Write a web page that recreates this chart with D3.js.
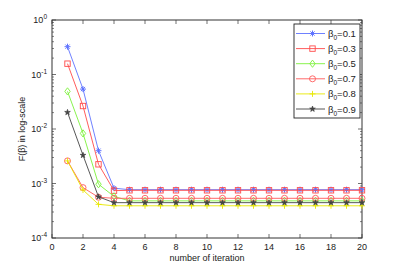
<!DOCTYPE html>
<html>
<head>
<meta charset="utf-8">
<script src="https://cdn.jsdelivr.net/npm/d3@7"></script>
<style>
  body { margin: 0; background: #fff; }
  svg text { font-family: "Liberation Sans", Arial, sans-serif; fill: #222; }
</style>
</head>
<body>
<div id="chart"></div>
<script>
const iterations = d3.range(1, 21);
const seriesNames = ['0.1', '0.3', '0.5', '0.7', '0.8', '0.9'];
const beta01 = [0.324, 0.054, 0.0040, 0.00082].concat(Array(16).fill(0.00077));
const beta03 = [0.158, 0.0264, 0.00225, 0.00074].concat(Array(16).fill(0.00075));
const beta05 = [0.049, 0.0083, 0.00097, 0.00058].concat(Array(16).fill(0.00048));
const beta07 = [0.0026, 0.00084, 0.00056, 0.000535].concat(Array(16).fill(0.000535));
const beta08 = [0.0026, 0.00076, 0.000415, 0.00039].concat(Array(16).fill(0.00039));
const beta09 = [0.0202, 0.0033, 0.00057, 0.000445].concat(Array(16).fill(0.000445));
const xTicks = d3.range(0, 21, 2);
const yTicks = [1e-4, 1e-3, 1e-2, 1e-1, 1];
const yExp = ['-4', '-3', '-2', '-1', '0'];

const seriesValues = [beta01, beta03, beta05, beta07, beta08, beta09];
const colors = ['#5f73ff', '#ff4a4a', '#7cf23a', '#ff5a5a', '#e8e800', '#444444'];
const markers = ['asterisk', 'square', 'diamond', 'circle', 'plus', 'star'];

const width = 399, height = 268;
const margin = {top: 20, right: 37, bottom: 30, left: 52};
const innerW = width - margin.left - margin.right;
const innerH = height - margin.top - margin.bottom;

const svg = d3.select('#chart').append('svg')
    .attr('width', width)
    .attr('height', height);

const g = svg.append('g').attr('transform', `translate(${margin.left},${margin.top})`);

const x = d3.scaleLinear().domain([0, 20]).range([0, innerW]);
const y = d3.scaleLog().domain([1e-4, 1]).range([innerH, 0]);

// minor log ticks
const minor = [];
for (let e = -4; e < 0; e++) for (let k = 2; k <= 9; k++) minor.push(k * Math.pow(10, e));

const tickColor = '#333';
// y ticks left/right
[0, innerW].forEach((px, side) => {
    const dir = side === 0 ? 1 : -1;
    g.selectAll(null).data(yTicks).enter().append('line')
        .attr('x1', px).attr('x2', px + dir * 4)
        .attr('y1', d => y(d)).attr('y2', d => y(d))
        .attr('stroke', tickColor).attr('stroke-width', 0.7);
    g.selectAll(null).data(minor).enter().append('line')
        .attr('x1', px).attr('x2', px + dir * 2)
        .attr('y1', d => y(d)).attr('y2', d => y(d))
        .attr('stroke', tickColor).attr('stroke-width', 0.6);
});
// x ticks bottom/top
[innerH, 0].forEach((py, side) => {
    const dir = side === 0 ? -1 : 1;
    g.selectAll(null).data(xTicks).enter().append('line')
        .attr('x1', d => x(d)).attr('x2', d => x(d))
        .attr('y1', py).attr('y2', py + dir * 4)
        .attr('stroke', tickColor).attr('stroke-width', 0.7);
});

// frame
g.append('rect').attr('width', innerW).attr('height', innerH)
    .attr('fill', 'none').attr('stroke', '#333').attr('stroke-width', 1);

// x tick labels
g.selectAll('.xl').data(xTicks).enter().append('text')
    .attr('class', 'xl')
    .attr('x', d => x(d)).attr('y', innerH + 12)
    .attr('text-anchor', 'middle')
    .style('font-size', '9px')
    .text(d => d);

// y tick labels
const yl = g.selectAll('.yl').data(yTicks).enter().append('text')
    .attr('class', 'yl')
    .attr('x', -5).attr('y', d => y(d) + 3)
    .attr('text-anchor', 'end')
    .style('font-size', '9px');
yl.append('tspan').text('10');
yl.append('tspan').attr('dy', -4).style('font-size', '6.5px').text((d, i) => yExp[i]);

// axis titles
g.append('text')
    .attr('x', innerW / 2).attr('y', innerH + 23)
    .attr('text-anchor', 'middle')
    .style('font-size', '9px')
    .text('number of iteration');

const yt = g.append('text')
    .attr('transform', `translate(-27,${innerH / 2}) rotate(-90)`)
    .attr('text-anchor', 'middle')
    .style('font-size', '9px');
yt.text('F(β) in log-scale');

function drawMarker(sel, type, color, size) {
    const s = size;
    if (type === 'asterisk') {
        sel.append('path')
            .attr('d', `M${-s},0L${s},0M0,${-s}L0,${s}M${-s * 0.7},${-s * 0.7}L${s * 0.7},${s * 0.7}M${-s * 0.7},${s * 0.7}L${s * 0.7},${-s * 0.7}`)
            .attr('stroke', color).attr('stroke-width', 1).attr('fill', 'none');
    } else if (type === 'plus') {
        sel.append('path')
            .attr('d', `M${-s},0L${s},0M0,${-s}L0,${s}`)
            .attr('stroke', color).attr('stroke-width', 0.9).attr('fill', 'none');
    } else if (type === 'square') {
        sel.append('rect').attr('x', -s * 0.9).attr('y', -s * 0.9)
            .attr('width', s * 1.8).attr('height', s * 1.8)
            .attr('stroke', color).attr('stroke-width', 0.9).attr('fill', 'none');
    } else if (type === 'diamond') {
        sel.append('path')
            .attr('d', `M0,${-s * 1.2}L${s * 0.9},0L0,${s * 1.2}L${-s * 0.9},0Z`)
            .attr('stroke', color).attr('stroke-width', 0.9).attr('fill', 'none');
    } else if (type === 'circle') {
        sel.append('circle').attr('r', s)
            .attr('stroke', color).attr('stroke-width', 0.9).attr('fill', 'none');
    } else if (type === 'star') {
        sel.append('path')
            .attr('d', d3.symbol().type(d3.symbolStar).size(s * s * 1.1)())
            .attr('stroke', color).attr('stroke-width', 0.7).attr('fill', color);
    }
}

const line = d3.line().x((d, i) => x(iterations[i])).y(d => y(d));

seriesValues.forEach((vals, si) => {
    const sg = g.append('g');
    sg.append('path').datum(vals)
        .attr('d', line)
        .attr('fill', 'none')
        .attr('stroke', colors[si])
        .attr('stroke-width', 0.9);
    vals.forEach((v, i) => {
        const mg = sg.append('g').attr('transform', `translate(${x(iterations[i])},${y(v)})`);
        drawMarker(mg, markers[si], colors[si], 3);
    });
});

// legend
const lg = g.append('g').attr('transform', `translate(${294 - margin.left},${24 - margin.top})`);
lg.append('rect').attr('width', 66).attr('height', 94)
    .attr('fill', '#fff').attr('stroke', '#222').attr('stroke-width', 0.9);
seriesNames.forEach((name, i) => {
    const ly = 9.5 + i * 15.1;
    lg.append('line').attr('x1', 2).attr('x2', 31).attr('y1', ly).attr('y2', ly)
        .attr('stroke', colors[i]).attr('stroke-width', 0.9);
    const mg = lg.append('g').attr('transform', `translate(18.5,${ly})`);
    drawMarker(mg, markers[i], colors[i], 3);
    const t = lg.append('text').attr('x', 34).attr('y', ly + 3.5).style('font-size', '9.5px');
    t.append('tspan').text('β');
    t.append('tspan').attr('dy', 3).style('font-size', '6.5px').text('0');
    t.append('tspan').attr('dy', -3).text('=' + name);
});
</script>
</body>
</html>
